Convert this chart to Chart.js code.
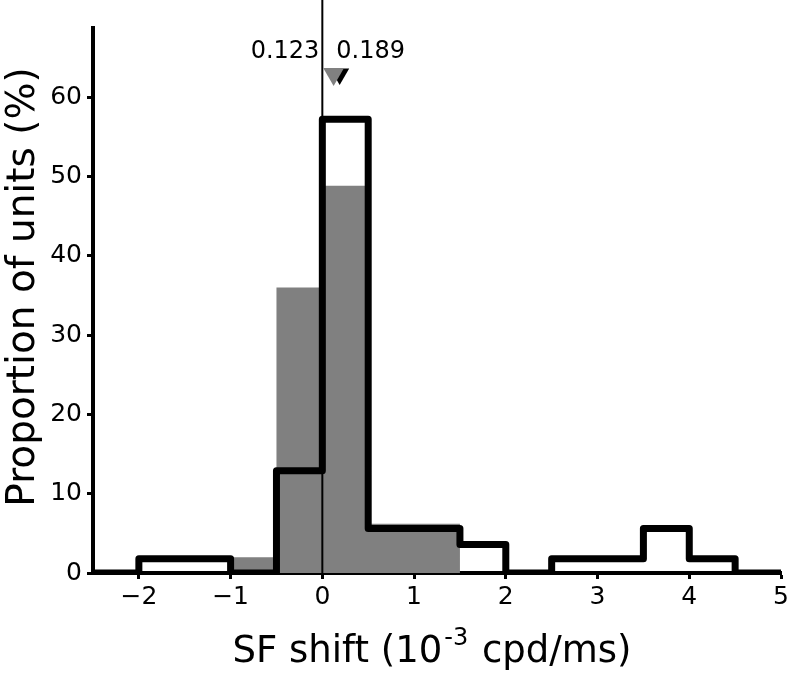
<!DOCTYPE html>
<html>
<head>
<meta charset="utf-8">
<script src="https://cdn.jsdelivr.net/npm/chart.js@4.4.0/dist/chart.umd.min.js"></script>
<style>
body { margin: 0; background: #fff; }
#wrap { width: 793px; height: 674px; }
</style>
</head>
<body>
<div id="wrap"><canvas id="chart" width="793" height="674"></canvas></div>
<script>
// left edges of the 0.5 wide bins, last entry closes the last bin
const binEdges = [-2.5, -2, -1.5, -1, -0.5, 0, 0.5, 1, 1.5, 2, 2.5, 3, 3.5, 4, 4.5, 5]
// grey filled histogram (% of units)
const greyValues = [0, 0, 0, 2, 36, 48.8, 6.2, 6.2, 0, 0, 0, 0, 0, 0, 0]
// black outline histogram (% of units)
const blackValues = [0, 1.8, 1.8, 0, 12.9, 57.2, 5.6, 5.6, 3.6, 0, 1.8, 1.8, 5.6, 1.8, 0]
// medians, shown as triangles above the bars
const greyMedian = 0.123
const blackMedian = 0.189
const markerLevel = 62.9
const xTicks = [-2, -1, 0, 1, 2, 3, 4, 5]
const yTicks = [0, 10, 20, 30, 40, 50, 60]
const xTitle = ['SF shift (10', '-3', ' cpd/ms)']
const yTitle = 'Proportion of units (%)'

const FONT = '"DejaVu Sans", sans-serif'
const GREY = '#808080'

// stepped line points: one per bin left edge, plus the closing edge
const stepPoints = (values) => {
    const pts = values.map((v, i) => ({ x: binEdges[i], y: v }))
    pts.push({ x: binEdges[binEdges.length - 1], y: values[values.length - 1] })
    return pts
}

const minus = (v) => v < 0 ? '\u2212' + Math.abs(v) : String(v)

// thin zero line (over the grey bars), median numbers and axis titles
const extras = {
    id: 'extras',
    afterDatasetDraw(chart, args) {
        if (args.index !== 0) return
        const { ctx, chartArea } = chart
        const x0 = chart.scales.x.getPixelForValue(0)
        ctx.save()
        ctx.strokeStyle = '#000'
        ctx.lineWidth = 2
        ctx.beginPath()
        ctx.moveTo(x0, 0)
        ctx.lineTo(x0, chartArea.bottom)
        ctx.stroke()
        ctx.restore()
    },
    afterDatasetsDraw(chart) {
        const { ctx } = chart
        const x0 = chart.scales.x.getPixelForValue(0)
        const ty = chart.scales.y.getPixelForValue(markerLevel) - 22
        ctx.save()
        ctx.fillStyle = '#000'
        ctx.font = '24px ' + FONT
        ctx.textBaseline = 'middle'
        ctx.textAlign = 'right'
        ctx.fillText(greyMedian.toFixed(3), x0 - 3, ty)
        ctx.textAlign = 'left'
        ctx.fillText(blackMedian.toFixed(3), x0 + 14, ty)
        ctx.restore()
    },
    afterDraw(chart) {
        const { ctx } = chart
        ctx.save()
        ctx.fillStyle = '#000'
        ctx.textBaseline = 'alphabetic'
        ctx.textAlign = 'left'

        // x title with a raised exponent
        const big = '37px ' + FONT
        const small = '24px ' + FONT
        ctx.font = big
        const w0 = ctx.measureText(xTitle[0]).width
        const w2 = ctx.measureText(xTitle[2]).width
        ctx.font = small
        const w1 = ctx.measureText(xTitle[1]).width + 4
        let x = 432 - (w0 + w1 + w2) / 2
        const base = 662
        ctx.font = big
        ctx.fillText(xTitle[0], x, base)
        x += w0 + 2
        ctx.font = small
        ctx.fillText(xTitle[1], x, base - 17)
        x += w1 - 2
        ctx.font = big
        ctx.fillText(xTitle[2], x, base)

        // y title, rotated
        ctx.translate(24, 287)
        ctx.rotate(-Math.PI / 2)
        ctx.font = '39px ' + FONT
        ctx.textAlign = 'center'
        ctx.textBaseline = 'middle'
        ctx.fillText(yTitle, 0, 0)
        ctx.restore()
    }
}

Chart.defaults.font.family = FONT
Chart.defaults.color = '#000'

let chart = new Chart(document.getElementById('chart'), {
    type: 'line',
    data: {
        datasets: [
            {
                data: stepPoints(greyValues),
                stepped: true,
                fill: 'origin',
                backgroundColor: GREY,
                borderWidth: 0,
                pointRadius: 0,
                order: 4
            },
            {
                data: stepPoints(blackValues),
                stepped: true,
                fill: false,
                borderColor: '#000',
                borderWidth: 7,
                borderJoinStyle: 'round',
                borderCapStyle: 'round',
                pointRadius: 0,
                order: 3
            },
            {
                data: [{ x: blackMedian, y: markerLevel }],
                showLine: false,
                pointStyle: 'triangle',
                rotation: 180,
                pointRadius: 11,
                backgroundColor: '#000',
                borderWidth: 0,
                order: 2
            },
            {
                data: [{ x: greyMedian, y: markerLevel }],
                showLine: false,
                pointStyle: 'triangle',
                rotation: 180,
                pointRadius: 12,
                backgroundColor: GREY,
                borderWidth: 0,
                order: 1
            }
        ]
    },
    options: {
        responsive: false,
        animation: false,
        layout: { padding: { top: 28, right: 9, left: 0, bottom: 0 } },
        plugins: { legend: { display: false }, tooltip: { enabled: false } },
        scales: {
            x: {
                type: 'linear',
                min: -2.5,
                max: 5,
                afterBuildTicks: (scale) => { scale.ticks = xTicks.map(v => ({ value: v })) },
                afterFit: (scale) => { scale.height = 101 },
                border: { display: true, color: '#000', width: 4 },
                grid: { drawOnChartArea: false, drawTicks: true, tickLength: 6, tickWidth: 3, tickColor: '#000' },
                ticks: { font: { size: 25 }, padding: 3, callback: minus, maxRotation: 0 }
            },
            y: {
                min: 0,
                max: 68.7,
                afterBuildTicks: (scale) => { scale.ticks = yTicks.map(v => ({ value: v })) },
                afterFit: (scale) => { scale.width = 93 },
                border: { display: true, color: '#000', width: 4 },
                grid: { drawOnChartArea: false, drawTicks: true, tickLength: 6, tickWidth: 3, tickColor: '#000' },
                ticks: { font: { size: 25 }, padding: 5 }
            }
        }
    },
    plugins: [extras]
})
</script>
</body>
</html>
